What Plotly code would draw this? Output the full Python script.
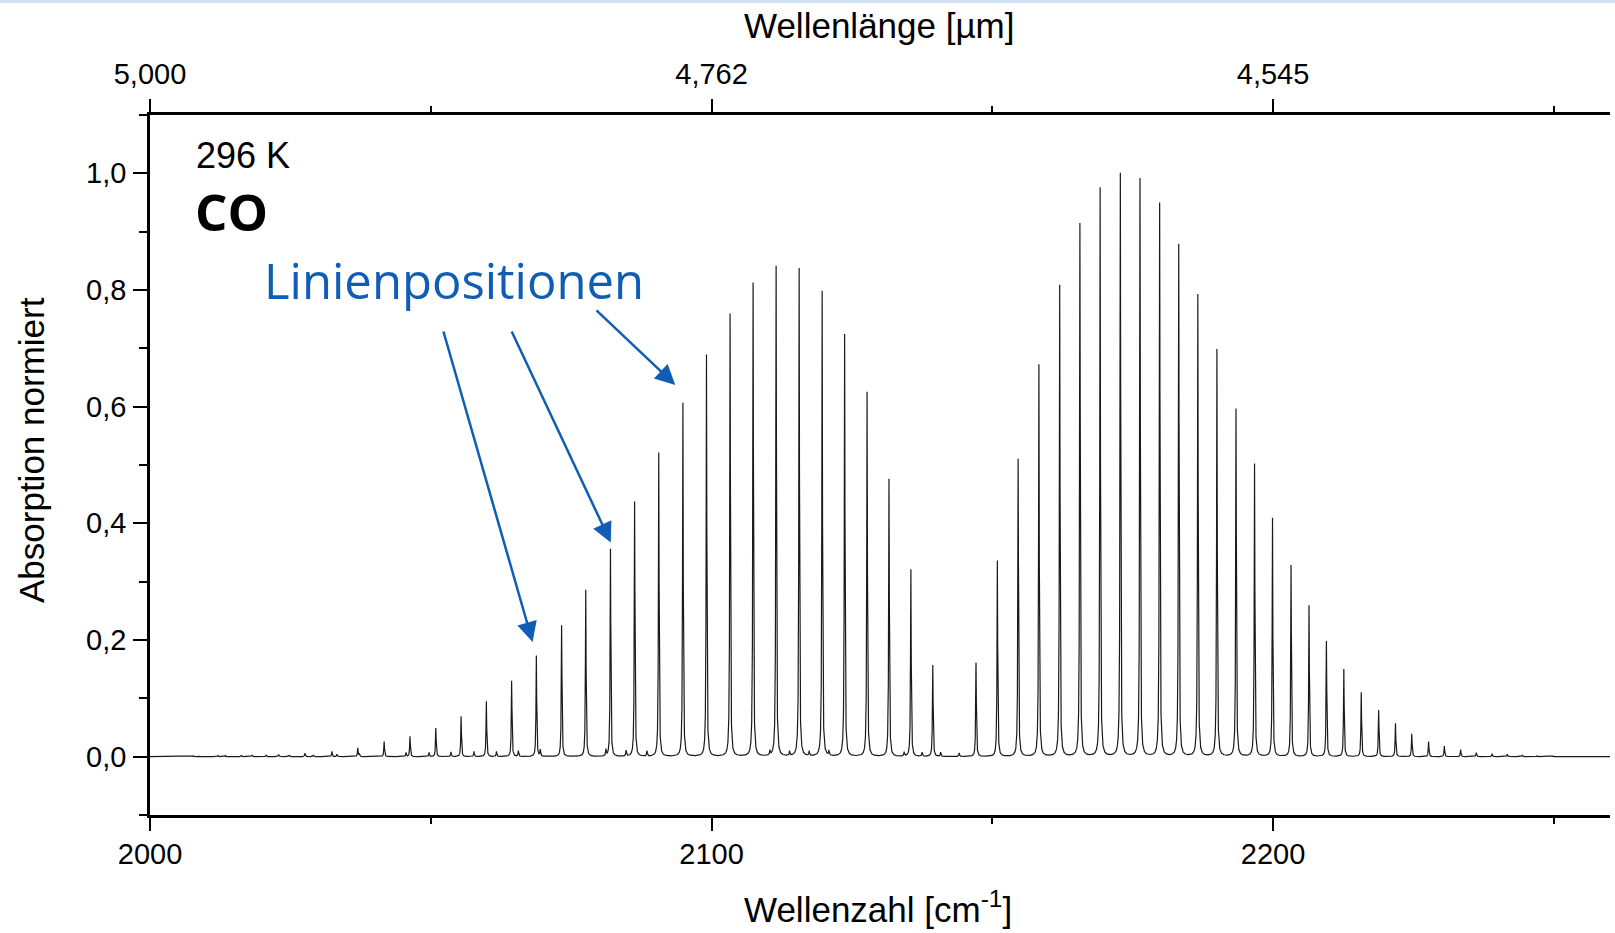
import numpy as np
import plotly.graph_objects as go

# ---------------- data ----------------
# P-branch lines: wavenumber [cm^-1], normalized absorption
p_pos = [2139.4, 2135.5, 2131.6, 2127.7, 2123.7, 2119.7, 2115.6, 2111.5, 2107.4, 2103.3,
         2099.1, 2094.9, 2090.6, 2086.3, 2082.0, 2077.6, 2073.3, 2068.8, 2064.4, 2059.9,
         2055.4, 2050.9, 2046.3, 2041.7, 2037.0, 2032.4, 2027.6, 2022.9, 2018.2, 2013.4,
         2008.5, 2003.7]
p_val = [0.157, 0.321, 0.476, 0.625, 0.724, 0.798, 0.837, 0.841, 0.812, 0.759,
         0.689, 0.606, 0.521, 0.437, 0.356, 0.286, 0.225, 0.173, 0.130, 0.095,
         0.069, 0.049, 0.035, 0.026, 0.015, 0.009, 0.006, 0.004, 0.003, 0.002,
         0.0015, 0.001]
# R-branch lines
r_pos = [2147.1, 2150.9, 2154.6, 2158.3, 2162.0, 2165.6, 2169.2, 2172.8, 2176.3, 2179.8,
         2183.2, 2186.6, 2190.0, 2193.4, 2196.7, 2199.9, 2203.2, 2206.4, 2209.5, 2212.6,
         2215.7, 2218.8, 2221.8, 2224.7, 2227.7, 2230.5, 2233.4, 2236.2, 2239.0, 2241.7,
         2244.4, 2247.0, 2249.7]
r_val = [0.161, 0.336, 0.510, 0.672, 0.808, 0.914, 0.975, 1.000, 0.991, 0.949,
         0.878, 0.792, 0.698, 0.596, 0.502, 0.409, 0.328, 0.259, 0.198, 0.150,
         0.110, 0.080, 0.057, 0.039, 0.026, 0.018, 0.012, 0.007, 0.005, 0.004,
         0.003, 0.002, 0.0015]
# weak satellite lines
weak_pos = [2007.7, 2012.1, 2016.3, 2020.7, 2024.8, 2029.1, 2033.3, 2037.3, 2045.6, 2049.7,
            2053.6, 2057.7, 2061.7, 2065.6, 2069.5, 2081.2, 2084.8, 2088.5, 2110.4, 2113.9,
            2117.4, 2120.9, 2134.3, 2137.5, 2140.8, 2144.1]
weak_val = [0.0015, 0.002, 0.002, 0.003, 0.003, 0.003, 0.004, 0.005, 0.007, 0.007,
            0.008, 0.009, 0.009, 0.010, 0.011, 0.011, 0.010, 0.009, 0.008, 0.008,
            0.008, 0.008, 0.007, 0.007, 0.007, 0.006]

x_range = [2000, 2260]
y_range = [-0.1, 1.1]
x_major = [2000, 2100, 2200]
x_major_text = ["2000", "2100", "2200"]
x_minor = [2050, 2150, 2250]
top_major_text = ["5,000", "4,762", "4,545"]
y_major = [0.0, 0.2, 0.4, 0.6, 0.8, 1.0]
y_major_text = ["0,0", "0,2", "0,4", "0,6", "0,8", "1,0"]
y_minor = [-0.1, 0.1, 0.3, 0.5, 0.7, 0.9, 1.1]

# ---------------- spectrum (Lorentzian line profiles) ----------------
gamma = 0.07
line_pos = np.array(p_pos + r_pos + weak_pos)
line_val = np.array(p_val + r_val + weak_val)
grid = np.arange(x_range[0], x_range[1] + 1e-9, 0.01)
nu = np.unique(np.concatenate([grid, line_pos]))
spec = np.zeros_like(nu)
for c, h in zip(line_pos, line_val):
    spec += h * gamma**2 / ((nu - c) ** 2 + gamma**2)

# ---------------- layout geometry ----------------
W, H = 1615, 933
L, R, T, B = 150, 5, 115, 118
PW, PH = W - L - R, H - T - B


def dx(px):
    return x_range[0] + (px - L) * (x_range[1] - x_range[0]) / PW


def dy(py):
    return y_range[1] - (py - T) * (y_range[1] - y_range[0]) / PH


def paper_x(px):
    return (px - L) / PW


def paper_y(py):
    return 1 - (py - T) / PH


fig = go.Figure()
fig.add_trace(go.Scatter(x=nu, y=spec, mode="lines",
                         line=dict(color="#1a1a1a", width=1.2),
                         hoverinfo="skip", showlegend=False))
fig.add_trace(go.Scatter(x=x_range, y=[None, None], xaxis="x2", mode="lines",
                         hoverinfo="skip", showlegend=False))

tickfont = dict(family="Liberation Sans, Arial", size=29, color="black")
common_x = dict(range=x_range, showgrid=False, zeroline=False, showline=True,
                linecolor="black", linewidth=2.5, ticks="outside", ticklen=13,
                tickwidth=2, tickcolor="black", tickvals=x_major, tickfont=tickfont,
                minor=dict(tickvals=x_minor, ticks="outside", ticklen=6, tickwidth=2,
                           tickcolor="black"))

fig.update_layout(
    width=W, height=H,
    margin=dict(l=L, r=R, t=T, b=B, pad=0),
    paper_bgcolor="white", plot_bgcolor="white",
    xaxis=dict(common_x, ticktext=x_major_text, ticklabelstandoff=-2),
    xaxis2=dict(common_x, ticktext=top_major_text, overlaying="x", side="top",
                anchor="y", ticklabelstandoff=4),
    yaxis=dict(range=y_range, showgrid=False, zeroline=False, showline=True,
               linecolor="black", linewidth=2.5, ticks="outside", ticklen=14,
               tickwidth=2, tickcolor="black", tickvals=y_major,
               ticktext=y_major_text, tickfont=tickfont, ticklabelstandoff=1,
               minor=dict(tickvals=y_minor, ticks="outside", ticklen=8, tickwidth=2,
                          tickcolor="black")),
    showlegend=False,
)

title_font = dict(family="Liberation Sans, Arial", size=35, color="black")
blue = "#0F5DB4"
ann = [
    dict(text="Wellenlänge [µm]", x=paper_x(879), y=paper_y(26), xref="paper", yref="paper",
         xanchor="center", yanchor="middle", showarrow=False, font=title_font),
    dict(text="Wellenzahl [cm<sup>-1</sup>]", x=paper_x(878), y=paper_y(907), xref="paper",
         yref="paper", xanchor="center", yanchor="middle", showarrow=False, font=title_font),
    dict(text="Absorption normiert", x=paper_x(31), y=paper_y(450), xref="paper",
         yref="paper", xanchor="center", yanchor="middle", textangle=-90,
         showarrow=False, font=title_font),
    dict(text="296 K", x=dx(194), y=dy(155), xref="x", yref="y", xanchor="left",
         yanchor="middle", showarrow=False,
         font=dict(family="Liberation Sans, Arial", size=36, color="black")),
    dict(text="<b>CO</b>", x=dx(193), y=dy(211), xref="x", yref="y", xanchor="left",
         yanchor="middle", showarrow=False,
         font=dict(family="Open Sans", size=51, color="black")),
    dict(text="Linienpositionen", x=dx(262), y=dy(280), xref="x", yref="y",
         xanchor="left", yanchor="middle", showarrow=False,
         font=dict(family="Open Sans", size=49, color=blue)),
]
arrows = [((443, 330), (532.6, 642)), ((511, 330), (610.8, 542.5)),
          ((595, 309), (675.3, 385))]
for (tx, ty), (hx, hy) in arrows:
    ann.append(dict(text="", x=dx(hx), y=dy(hy), ax=dx(tx), ay=dy(ty), xref="x", yref="y",
                    axref="x", ayref="y", showarrow=True, arrowhead=2, arrowsize=1.6,
                    arrowwidth=2.5, arrowcolor=blue, standoff=0, startstandoff=0))
fig.update_layout(annotations=ann)

fig.add_shape(type="rect", xref="paper", yref="paper", x0=paper_x(0), x1=paper_x(W),
              y0=paper_y(3), y1=paper_y(0), line=dict(width=0), fillcolor="#cfe0f1",
              layer="above")

fig.write_html("out.html")
